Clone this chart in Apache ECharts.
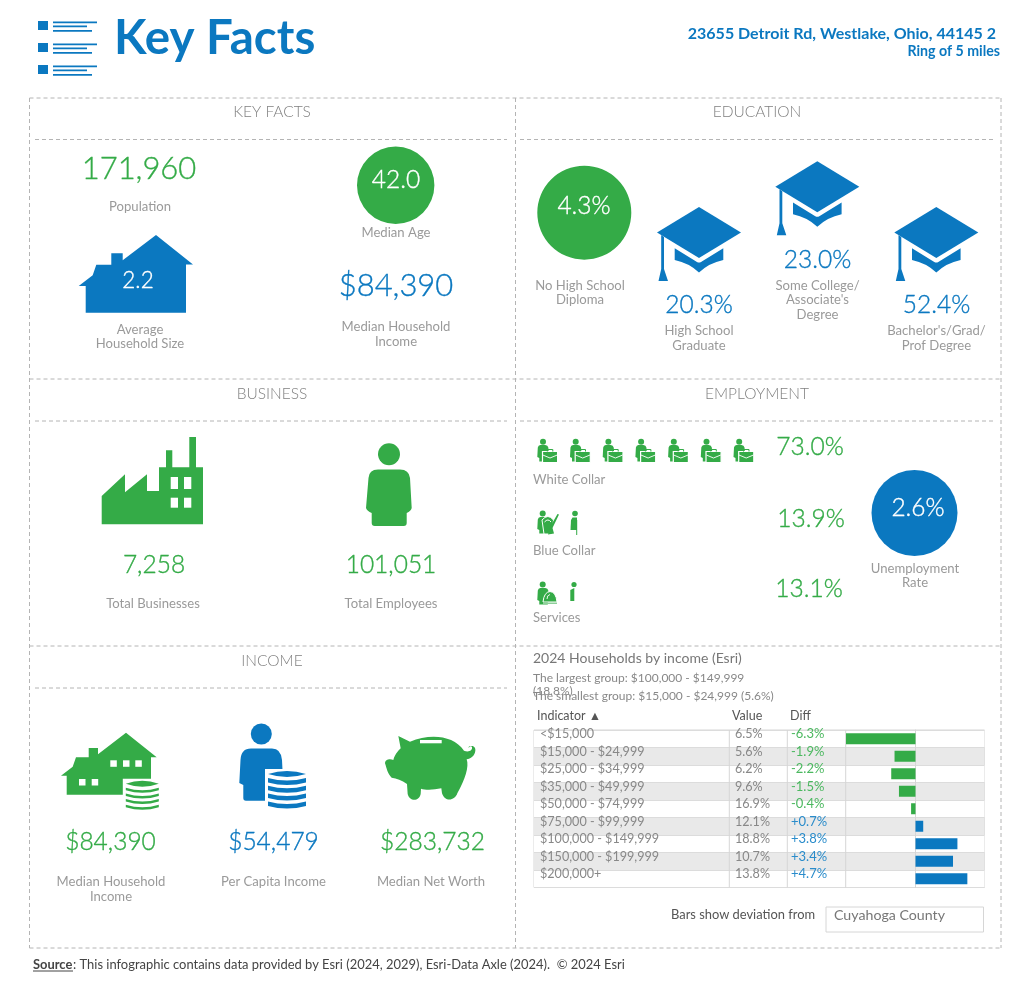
<!DOCTYPE html>
<html>
<head>
<meta charset="utf-8">
<style>html,body{margin:0;padding:0;background:#fff}#main{width:1024px;height:987px}</style>
<script src="https://cdn.jsdelivr.net/npm/echarts@6/dist/echarts.min.js"></script>
</head>
<body>
<div id="main"></div>
<script>
var incomeBands = ['<$15,000','$15,000 - $24,999','$25,000 - $34,999','$35,000 - $49,999','$50,000 - $74,999','$75,000 - $99,999','$100,000 - $149,999','$150,000 - $199,999','$200,000+'];
var incomeValues = [6.5,5.6,6.2,9.6,16.9,12.1,18.8,10.7,13.8];
var incomeDiffs = [-6.3,-1.9,-2.2,-1.5,-0.4,0.7,3.8,3.4,4.7];

var GREEN = '#34ab47', BLUE = '#0b78c0', GREY = '#9a9a9a';
var FONT = 'Lato, "Noto Sans", sans-serif';
var LABEL = 13.1, BIG = 31, MID = 24.5;
var g = [];
var shapeCount = 0;

function text(s, x, y, size, color, align, weight) {
    g.push({type:'text', x:x, y:y+0.5, z:10, silent:true, style:{
        text:s, fill:color, textAlign:align || 'center', textVerticalAlign:'middle',
        font:(weight || 400) + ' ' + size + 'px ' + FONT
    }});
}
// the big figures sit between Lato light and regular, so light with a hairline stroke
function num(s, x, y, size, color) {
    g.push({type:'text', x:x, y:y+0.5, z:10, silent:true, style:{
        text:s, fill:color, stroke:color, lineWidth:0.35, textAlign:'center', textVerticalAlign:'middle',
        font:'300 ' + size + 'px ' + FONT
    }});
}
function dash(x1, y1, x2, y2) {
    g.push({type:'line', shape:{x1:x1,y1:y1,x2:x2,y2:y2}, silent:true,
        style:{stroke:'#b4b4b4', lineWidth:1, lineDash:[4,3]}});
}
function rect(x, y, w, h, fill, z) {
    g.push({type:'rect', shape:{x:x,y:y,width:w,height:h}, z:z || 3, silent:true, style:{fill:fill}});
}
function circle(x, y, r, fill, z) {
    g.push({type:'circle', shape:{cx:x,cy:y,r:r}, z:z || 3, silent:true, style:{fill:fill}});
}
// graphic has no plain path type, so each icon outline gets its own shape class
function path(d, x, y, fill, z, scale, stroke, lw) {
    var name = 'icon' + (shapeCount++);
    echarts.graphic.registerShape(name, echarts.graphic.extendPath(d, {}));
    g.push({type:name, shape:{}, x:x, y:y, scaleX:scale || 1, scaleY:scale || 1, z:z || 3, silent:true,
        style:{fill:fill, stroke:stroke || null, lineWidth:lw || 0}});
}

// header
[0,22,44].forEach(function (o) {
    rect(38, 21+o, 10, 9, BLUE);
    rect(53, 21.5+o, 44, 1.7, BLUE);
    rect(53, 25.5+o, 34, 1.7, BLUE);
    rect(53, 30+o, 39, 1.7, BLUE);
});
text('Key Facts', 114, 38, 47.5, BLUE, 'left', 700);
text('23655 Detroit Rd, Westlake, Ohio, 44145 2', 996, 33, 16, BLUE, 'right', 700);
text('Ring of 5 miles', 1000, 51, 14.2, BLUE, 'right', 700);

// frames
dash(29.5,98,1001,98); dash(29.5,379,1001,379); dash(29.5,646,1001,646); dash(29.5,948,1001,948);
dash(29.5,98,29.5,948); dash(515.5,98,515.5,948); dash(1001,98,1001,948);
dash(35,139.5,507,139.5); dash(520,139.5,993,139.5);
dash(35,421,507,421); dash(520,421,993,421);
dash(35,688,507,688);
[['KEY FACTS',272,111],['EDUCATION',757,111],['BUSINESS',272,393],['EMPLOYMENT',757,393],['INCOME',272,660]].forEach(function (s) {
    text(s[0], s[1], s[2], 15.5, '#808080', 'center', 300);
});

// key facts
num('171,960', 139, 168.5, BIG, GREEN);
text('Population', 140, 206, LABEL, GREY);
circle(395.7, 185.3, 38.7, GREEN);
num('42.0', 396, 180, MID, '#fff');
text('Median Age', 396, 232, LABEL, GREY);
path('M156 235L193 264.5L186 264.5L186 312.7L85.7 312.7L85.7 286L78.7 286L92.7 275.3L96.3 264.7L111.3 264.7L111.3 253.3L122.7 253.3L122.7 260.3Z', 0, 0, BLUE);
num('2.2', 138, 280, 22.5, '#fff');
text('Average', 140, 329, LABEL, GREY);
text('Household Size', 140, 343, LABEL, GREY);
num('$84,390', 396, 285.5, BIG, BLUE);
text('Median Household', 396, 326, LABEL, GREY);
text('Income', 396, 341, LABEL, GREY);

// education
function cap(px, py) {
    path('M0 0L42 25.5L0 51L-42 25.5Z', px, py, BLUE);
    path('M-24.3 41.3L-2 55Q0 56 2 55L24.3 41.3L24.3 53Q10 56 0 65.5Q-10 56 -24.3 53Z', px, py, BLUE);
    path('M-37.8 28L-35 30L-35 62L-31 74L-40.5 74L-37.8 62Z', px, py, BLUE);
}
circle(584.3, 212.7, 47, GREEN);
num('4.3%', 584, 206, MID, '#fff');
text('No High School', 580, 285, LABEL, GREY);
text('Diploma', 580, 299.5, LABEL, GREY);
cap(699, 207); cap(817.3, 161.3); cap(936.3, 207);
num('20.3%', 699, 304.5, MID, BLUE);
num('23.0%', 817.5, 259.5, MID, BLUE);
num('52.4%', 936.5, 304.5, MID, BLUE);
text('High School', 699, 330, LABEL, GREY);
text('Graduate', 699, 345, LABEL, GREY);
text('Some College/', 817.5, 285, LABEL, GREY);
text("Associate's", 817.5, 299.5, LABEL, GREY);
text('Degree', 817.5, 314, LABEL, GREY);
text("Bachelor's/Grad/", 936.5, 330, LABEL, GREY);
text('Prof Degree', 936.5, 345, LABEL, GREY);

// business
path('M101.7 496L125 474.3L125 492.3L147 474.3L147 491L159 491L159 467.3L166 467.3L166 450.3L172.3 450.3L172.3 467.3L189.3 467.3L189.3 437L196 437L196 467.3L203 467.3L203 524.3L101.7 524.3Z', 0, 0, GREEN);
[170.7,184].forEach(function (x) {
    rect(x, 477, 7.3, 12, '#fff', 4);
    rect(x, 497.7, 7.3, 10, '#fff', 4);
});
circle(389, 454.3, 11, GREEN);
path('M368.5 478Q369 469.5 378 469.5L400 469.5Q409 469.5 410 478L411.7 508Q411 511 406.7 513L406.7 523Q406.7 526 403.7 526L374.7 526Q371.7 526 371.7 523L371.7 513Q367 511 366 508Z', 0, 0, GREEN);
num('7,258', 154, 564.5, MID, GREEN);
text('Total Businesses', 153, 603.5, LABEL, GREY);
num('101,051', 391, 564.5, MID, GREEN);
text('Total Employees', 391, 603.5, LABEL, GREY);

// employment icons
var BODY = 'M0.5 9.5Q1 7 3 7L8 7Q10.5 7 11 9.5L12 19L10.5 20L10.5 23.5L2 23.5L2 20L0 19Z';
function whiteCollar(x, y) {
    circle(x+5.7, y+3.7, 3, GREEN);
    path(BODY, x, y, GREEN);
    path('M5.2 13.5L20.3 13.5L20.3 24.7L5.2 24.7Z', x, y, GREEN, 4, 1, '#fff', 1.2);
    path('M10 13.5L10 11.5L15.5 11.5L15.5 13.5', x, y, 'none', 5, 1, GREEN, 1);
    path('M5.5 17L12.7 20L20 17', x, y, 'none', 5, 1, '#fff', 0.9);
}
for (var k = 0; k < 7; k++) whiteCollar(537.3 + k*32.7, 438);
circle(542.7, 513.5, 3, GREEN);
path(BODY, 537.3, 510, GREEN);
path('M542 520Q548 513 553.5 520L552 534L544 534Z', 0, 0, GREEN, 4, 1, '#fff', 1);
path('M544.5 522Q548 518 551 522', 0, 0, 'none', 5, 1, '#fff', 1);
path('M557.5 514L559 514.5L552.5 528L554 533.5L548 534.5L550 527Z', 0, 0, GREEN, 5);
circle(575, 513.5, 2.8, GREEN);
path('M572.5 517.5L577 517.5L577 530L570.5 530L571 520Z', 0, 0, GREEN);
rect(576.2, 520, 1, 15, GREEN);
circle(542.7, 584.5, 3, GREEN);
path(BODY, 537.3, 581, GREEN);
path('M543 602Q544 592 550 591.5Q556 592 557 602Z', 0, 0, GREEN, 4, 1, '#fff', 1);
path('M547 599Q547 595 550 594.5', 0, 0, 'none', 5, 1, '#fff', 0.9);
rect(543, 602.5, 14, 1.5, '#8ecf9a', 4);
circle(574, 584.5, 2.6, GREEN);
path('M574.3 588L574.3 601L570.3 601L570.3 590Z', 0, 0, GREEN);
text('White Collar', 533, 479.5, LABEL, GREY, 'left');
text('Blue Collar', 533, 550, LABEL, GREY, 'left');
text('Services', 533, 617, LABEL, GREY, 'left');
num('73.0%', 810, 446.5, MID, GREEN);
num('13.9%', 811, 518.5, MID, GREEN);
num('13.1%', 809, 588.5, MID, GREEN);
circle(914.5, 513, 43, BLUE);
num('2.6%', 918, 508, MID, '#fff');
text('Unemployment', 915, 568, LABEL, GREY);
text('Rate', 915, 582.5, LABEL, GREY);

// income icons
function coins(cx, top, hw, bands, color, bh, gap) {
    path('M'+(cx-hw-3)+' '+(top-2)+'L'+(cx+hw+3)+' '+(top-2)+'L'+(cx+hw+3)+' '+(top+bands*(bh+gap)+10)+'L'+(cx-hw-3)+' '+(top+bands*(bh+gap)+10)+'Z', 0, 0, '#fff', 4);
    path('M'+(cx-hw)+' '+(top+3)+'Q'+cx+' '+(top-3)+' '+(cx+hw)+' '+(top+3)+'Q'+cx+' '+(top+9)+' '+(cx-hw)+' '+(top+3)+'Z', 0, 0, color, 5);
    for (var i = 0; i < bands; i++) {
        var y = top + 7 + i*(bh+gap);
        path('M'+(cx-hw)+' '+y+'Q'+cx+' '+(y+5)+' '+(cx+hw)+' '+y+'L'+(cx+hw)+' '+(y+bh)+'Q'+cx+' '+(y+bh+5)+' '+(cx-hw)+' '+(y+bh)+'Z', 0, 0, color, 5);
    }
}
path('M126 732.7L156.7 757.3L151 757.3L151 794.7L66.7 794.7L66.7 775.7L61 775.7L72.7 766.7L76 757.3L88.7 757.3L88.7 748L98 748L98 754.3Z', 0, 0, GREEN);
[[79,779],[91.7,779],[110.3,760.3],[123,760.3],[135.3,760.3]].forEach(function (w) {
    rect(w[0], w[1], 6.5, 6.5, '#fff');
});
coins(142.3, 780.7, 16.5, 4, GREEN, 2.5, 3.2);
circle(261.3, 734, 10.5, BLUE);
path('M240.5 760Q241 748.5 251 748.5L272 748.5Q281 748.5 282 760L284 800.7L246 800.7Q243.3 800.7 243.3 798L243.3 785L239.3 783Z', 0, 0, BLUE);
coins(287, 771, 19, 4, BLUE, 4.5, 3.3);
path('M1075 78L1110 95C1170 70 1240 75 1272 122C1285 128 1298 122 1296 112C1292 105 1285 108 1286 114C1290 104 1308 106 1306 122C1304 138 1292 146 1280 148C1288 170 1275 210 1252 250C1245 272 1215 278 1206 250L1204 235C1180 240 1155 240 1143 236L1142 252C1138 275 1108 275 1103 252L1101 222C1085 210 1070 205 1055 203C1042 190 1040 175 1035 160C1035 148 1050 145 1060 150C1065 130 1080 118 1082 115Z', 40, 710, GREEN, 3, 1/3);
rect(420, 740, 21.7, 3.3, '#fff', 4);
num('$84,390', 110.5, 841.5, MID, GREEN);
num('$54,479', 273.5, 841.5, MID, BLUE);
num('$283,732', 432.5, 841.5, MID, GREEN);
text('Median Household', 111, 881, LABEL, GREY);
text('Income', 111, 896, LABEL, GREY);
text('Per Capita Income', 273.5, 881, LABEL, GREY);
text('Median Net Worth', 431, 881, LABEL, GREY);

// table heading
text('2024 Households by income (Esri)', 533, 658, 14, '#777', 'left');
text('The largest group: $100,000 - $149,999', 533, 678, 12, '#888', 'left');
text('(18.8%)', 533, 691, 12, '#888', 'left');
text('The smallest group: $15,000 - $24,999 (5.6%)', 533, 695.5, 12, '#888', 'left');
text('Indicator \u25B2', 537, 715.5, 12.5, '#555', 'left');
text('Value', 732, 715.5, 12.5, '#555', 'left');
text('Diff', 790, 715.5, 12.5, '#555', 'left');
[729.3,787.3,845.7].forEach(function (x) {
    g.push({type:'line', z:1, silent:true, shape:{x1:x,y1:730,x2:x,y2:887.5}, style:{stroke:'#d6d6d6', lineWidth:1}});
});
text('Bars show deviation from', 671, 914.5, 12.9, '#555', 'left');
g.push({type:'rect', silent:true, shape:{x:826,y:907,width:157.5,height:25}, style:{fill:'#fff', stroke:'#d6d6d6', lineWidth:1}});
text('Cuyahoga County', 834, 914.5, 14.2, '#777', 'left');

// source
text('Source', 33, 964, 12.9, '#444', 'left', 700);
g.push({type:'line', silent:true, shape:{x1:33,y1:971,x2:73,y2:971}, style:{stroke:'#444', lineWidth:1}});
text(': This infographic contains data provided by Esri (2024, 2029), Esri-Data Axle (2024).  \u00A9 2024 Esri', 73, 964, 12.95, '#444', 'left');

function signed(v) { return (v > 0 ? '+' : '') + v.toFixed(1) + '%'; }

var option = {
    animation: false,
    backgroundColor: '#fff',
    textStyle: {fontFamily: FONT},
    graphic: {elements: g},
    grid: [
        {left:534, top:730, width:450.5, height:157.5, show:true, borderColor:'#d6d6d6', borderWidth:1, backgroundColor:'transparent'},
        {left:846, top:730, width:139, height:157.5}
    ],
    xAxis: [
        {gridIndex:0, type:'value', min:0, max:1, show:false},
        {gridIndex:1, type:'value', min:-6.3, max:6.3, show:false}
    ],
    yAxis: [
        {gridIndex:0, type:'category', inverse:true, data:incomeBands,
            axisLine:{show:false}, axisTick:{show:false}, axisLabel:{show:false},
            splitLine:{show:true, lineStyle:{color:'#dcdcdc', width:1}},
            splitArea:{show:true, areaStyle:{color:['#fff','#e9e9e9']}}},
        {gridIndex:1, type:'category', inverse:true, data:incomeBands,
            axisLine:{show:true, onZero:true, lineStyle:{color:'#d6d6d6', width:1}},
            axisTick:{show:false}, axisLabel:{show:false}}
    ],
    series: [
        {
            name:'Rows', type:'custom', xAxisIndex:0, yAxisIndex:0, silent:true, z:8, clip:false,
            data: incomeBands.map(function (b, i) { return [0, i]; }),
            renderItem: function (params, api) {
                var i = api.value(1);
                var y = api.coord([0, i])[1] - 4.5;
                var d = incomeDiffs[i];
                function cell(s, x, fill, size) {
                    return {type:'text', x:x, y:y, style:{text:s, fill:fill, textAlign:'left', textVerticalAlign:'middle',
                        font:'400 ' + size + 'px ' + FONT}};
                }
                return {type:'group', children:[
                    cell(incomeBands[i], 540, '#888', 12.6),
                    cell(incomeValues[i].toFixed(1) + '%', 735, '#888', 12.6),
                    cell(signed(d), 791, d < 0 ? '#4cb860' : '#2a8ccb', 13)
                ]};
            }
        },
        {
            name:'Diff', type:'bar', xAxisIndex:1, yAxisIndex:1, barWidth:11, silent:true, z:6,
            data: incomeDiffs,
            itemStyle:{color:function (p) { return p.value < 0 ? GREEN : BLUE; }}
        }
    ]
};
var chart = echarts.init(document.getElementById('main'));
chart.setOption(option);
</script>
</body>
</html>
